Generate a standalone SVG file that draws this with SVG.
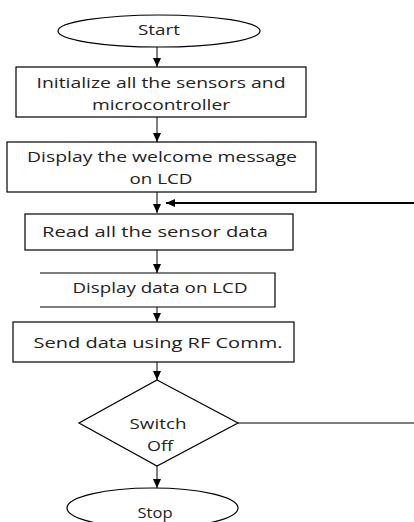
<svg xmlns="http://www.w3.org/2000/svg" width="414" height="522" viewBox="0 0 414 522">
<style>
.s{fill:#fff;stroke:#000;stroke-width:1.2}
.t{font-family:"Open Sans","Liberation Sans",sans-serif;font-size:14px;fill:#222;text-anchor:middle}
.c{stroke:#000;stroke-width:1;fill:none}
.thick{stroke-width:2}
</style>
<defs>
<marker id="ah" markerUnits="userSpaceOnUse" markerWidth="10" markerHeight="10" refX="9" refY="4" orient="auto">
<path d="M0,0 L9,4 L0,8 Z" fill="#000"/>
</marker>
</defs>
<rect width="414" height="522" fill="#fff"/>
<g id="connectors">
<line class="c" x1="157" y1="47" x2="157" y2="67" marker-end="url(#ah)"/>
<line class="c" x1="157" y1="117" x2="157" y2="142" marker-end="url(#ah)"/>
<line class="c" x1="157" y1="192" x2="157" y2="213" marker-end="url(#ah)"/>
<line class="c" x1="157" y1="250" x2="157" y2="273" marker-end="url(#ah)"/>
<line class="c" x1="157" y1="307" x2="157" y2="322" marker-end="url(#ah)"/>
<line class="c" x1="157" y1="362" x2="157" y2="380" marker-end="url(#ah)"/>
<line class="c" x1="157" y1="466" x2="157" y2="488" marker-end="url(#ah)"/>
<line class="c" x1="238" y1="423" x2="414" y2="423"/>
<line class="c thick" x1="414" y1="203" x2="166" y2="203" marker-end="url(#ah)"/>
</g>
<g id="start">
<ellipse class="s" cx="159" cy="31" rx="101" ry="16"/>
<text class="t" x="159" y="35" textLength="42" lengthAdjust="spacingAndGlyphs">Start</text>
</g>
<g id="init">
<rect class="s" x="16" y="67" width="290" height="50"/>
<text class="t" x="161" y="88" textLength="249" lengthAdjust="spacingAndGlyphs">Initialize all the sensors and</text>
<text class="t" x="161" y="110" textLength="138" lengthAdjust="spacingAndGlyphs">microcontroller</text>
</g>
<g id="welcome">
<rect class="s" x="7" y="142" width="309" height="50"/>
<text class="t" x="162" y="162" textLength="270" lengthAdjust="spacingAndGlyphs">Display the welcome message</text>
<text class="t" x="161" y="184" textLength="63" lengthAdjust="spacingAndGlyphs">on LCD</text>
</g>
<g id="read">
<rect class="s" x="25" y="214" width="268" height="36"/>
<text class="t" x="155" y="237" textLength="226" lengthAdjust="spacingAndGlyphs">Read all the sensor data</text>
</g>
<g id="display">
<path class="s" d="M40,273 H275 V307 H40"/>
<text class="t" x="160" y="293" textLength="175" lengthAdjust="spacingAndGlyphs">Display data on LCD</text>
</g>
<g id="send">
<rect class="s" x="13" y="322" width="281" height="40"/>
<text class="t" x="158" y="348" textLength="249" lengthAdjust="spacingAndGlyphs">Send data using RF Comm.</text>
</g>
<g id="switch">
<polygon class="s" points="157,380 238,423 157,466 79,423"/>
<text class="t" x="158" y="429" textLength="57" lengthAdjust="spacingAndGlyphs">Switch</text>
<text class="t" x="160" y="451" textLength="26" lengthAdjust="spacingAndGlyphs">Off</text>
</g>
<g id="stop">
<ellipse class="s" cx="152.5" cy="508" rx="85.5" ry="20"/>
<text class="t" x="155" y="518" textLength="35" lengthAdjust="spacingAndGlyphs">Stop</text>
</g>
</svg>
